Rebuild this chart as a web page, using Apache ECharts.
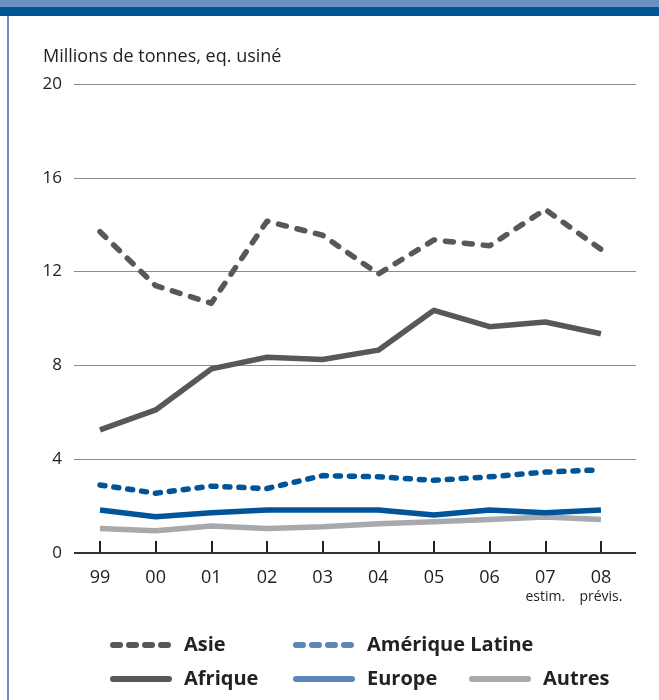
<!DOCTYPE html>
<html><head><meta charset="utf-8">
<script src="https://cdn.jsdelivr.net/npm/echarts@6/dist/echarts.min.js"></script>
<style>html,body{margin:0;padding:0;background:#fff}#c{width:659px;height:700px}</style>
</head><body><div id="c"></div>
<script>
const categories = ['99','00','01','02','03','04','05','06','07','08'];
const subLabels = ['','','','','','','','','estim.','prévis.'];
const yTicks = [0,4,8,12,16,20];
const asie = [13.7,11.4,10.65,14.15,13.55,11.9,13.35,13.1,14.65,12.95];
const afrique = [5.25,6.1,7.85,8.35,8.25,8.65,10.35,9.65,9.85,9.35];
const ameriqueLatine = [2.9,2.55,2.85,2.75,3.3,3.25,3.1,3.25,3.45,3.55];
const europe = [1.83,1.55,1.72,1.83,1.83,1.83,1.62,1.83,1.72,1.83];
const autres = [1.05,0.95,1.15,1.05,1.12,1.25,1.33,1.43,1.53,1.43];

const FONT = 'Open Sans';
const dark = '#58585a', blue = '#00559a', lightBlue = '#5b86bb', grey = '#a7a9ac';
const toPts = arr => arr.map((v,i)=>[i,v]);
const chart = echarts.init(document.getElementById('c'));
function line(name, data, color, dash){
  return {name, type:'line', data:toPts(data), symbol:'none', silent:true,
    lineStyle:{color, width:5.5, type: dash||'solid', cap: dash?'round':'butt', join:'round'},
    itemStyle:{color}};
}
function leg(name, left, top, color, dashed){
  return {left, top, itemWidth:56, itemHeight:14, itemGap:16, selectedMode:false, padding:0,
    textStyle:{fontFamily:FONT, fontSize:20, fontWeight:'bold', color:'#222', padding:[0,0,0,10]},
    data:[{name, lineStyle:{color, width:6, type: dashed?[7,9]:'solid', cap:'round'}, itemStyle:{color, opacity:0, borderWidth:0}}]};
}
chart.setOption({
  animation:false,
  graphic:[
    {type:'rect', shape:{x:0,y:0,width:659,height:7}, style:{fill:'#6b8fc0'}},
    {type:'rect', shape:{x:0,y:7,width:659,height:9}, style:{fill:'#005596'}},
    {type:'rect', shape:{x:7,y:16,width:2,height:684}, style:{fill:'#6b8fc0'}},
    {type:'text', left:43, top:48, style:{text:'Millions de tonnes, eq. usiné', font:'18px "Open Sans"', fill:'#222'}}
  ],
  grid:{left:74, right:23, top:84, bottom:147},
  xAxis:{type:'value', min:-0.467, max:9.63,
    axisLine:{show:false}, splitLine:{show:false},
    axisTick:{show:true, inside:true, length:12, customValues:[0,1,2,3,4,5,6,7,8,9], lineStyle:{color:'#222', width:2}},
    axisLabel:{customValues:[0,1,2,3,4,5,6,7,8,9], margin:14,
      formatter:v=>{const i=Math.round(v); return subLabels[i]? '{m|'+categories[i]+'}\n{s|'+subLabels[i]+'}' : '{m|'+categories[i]+'}';},
      rich:{m:{fontFamily:FONT,fontSize:18,color:'#222',lineHeight:22}, s:{fontFamily:FONT,fontSize:14,color:'#222',lineHeight:16}},
      verticalAlign:'top'}
  },
  yAxis:{type:'value', min:0, max:20, interval:4,
    axisLine:{show:false}, axisTick:{show:false},
    axisLabel:{fontFamily:FONT, fontSize:17, color:'#222', margin:12},
    splitLine:{lineStyle:{color:'#8c8c8c', width:1}}
  },
  legend:[
    leg('Asie',110,635,dark,true),
    leg('Amérique Latine',293,635,lightBlue,true),
    leg('Afrique',110,669,dark,false),
    leg('Europe',293,669,lightBlue,false),
    leg('Autres',469,669,grey,false)
  ],
  series:[
    line('Autres', autres, grey),
    line('Europe', europe, blue),
    line('Amérique Latine', ameriqueLatine, blue, [5,9]),
    line('Afrique', afrique, dark),
    line('Asie', asie, dark, [8,11]),
    {type:'line', data:[[-0.467,0],[9.63,0]], symbol:'none', silent:true, lineStyle:{color:'#333', width:2}, z:1}
  ]
});
</script></body></html>
